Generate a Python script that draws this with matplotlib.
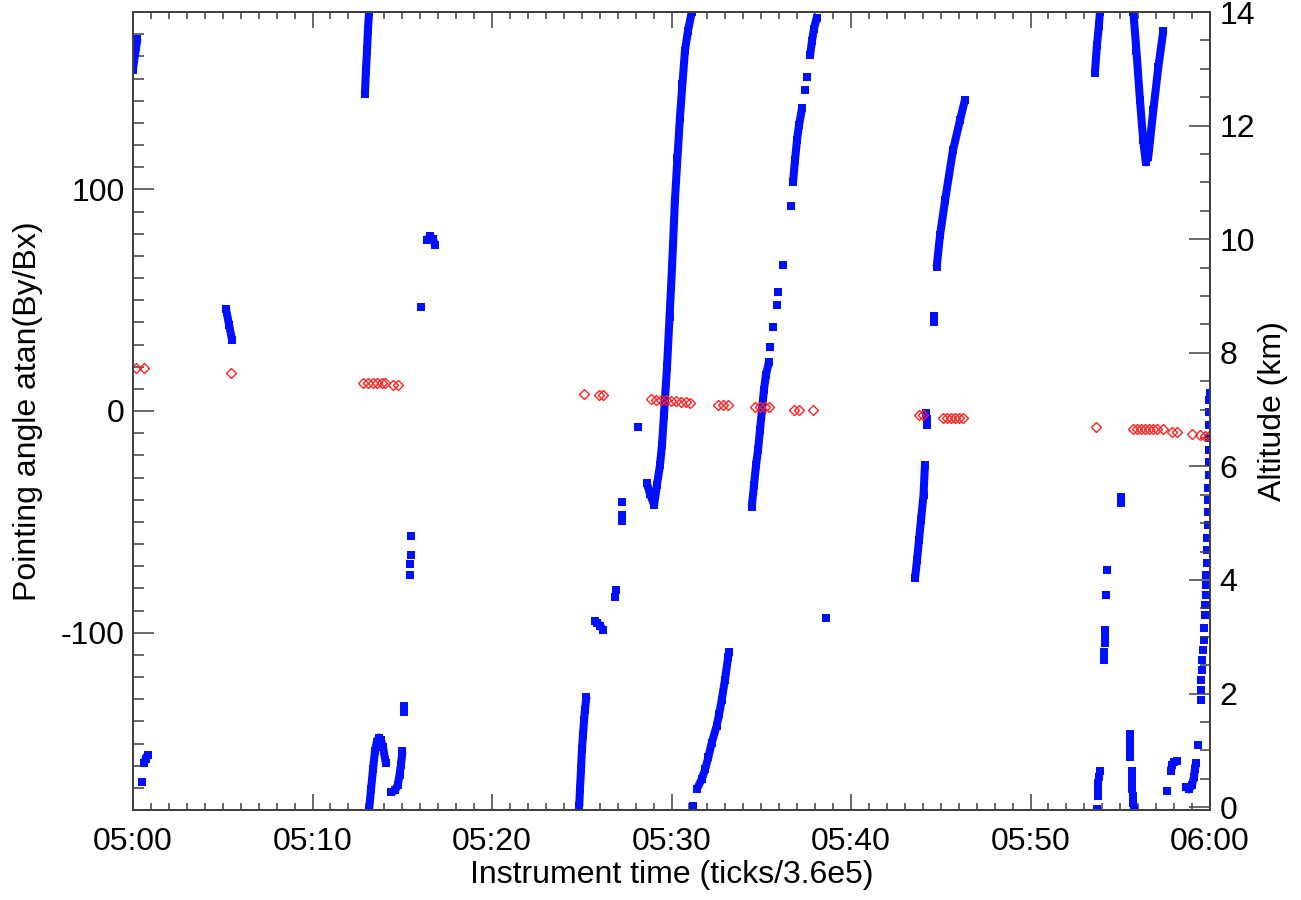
import matplotlib
matplotlib.use('Agg')
import matplotlib.pyplot as plt
from matplotlib.ticker import MultipleLocator, FixedLocator, FuncFormatter

plt.rcParams['font.family'] = ['Liberation Sans', 'DejaVu Sans']
plt.rcParams['axes.unicode_minus'] = False

# time in minutes after 05:00, pointing angle in degrees
# continuous tracks
trk_a_t = [0.0, 0.08, 0.17, 0.25]
trk_a_ang = [154, 159, 164, 168]
trk_b_t = [0.61, 0.70, 0.81]
trk_b_ang = [-159, -157, -155]
trk_c_t = [5.18, 5.35, 5.52]
trk_c_ang = [46, 39, 32]
trk_d_t = [12.92, 12.98, 13.04, 13.09, 13.15]
trk_d_ang = [143, 154, 163, 172, 180]
trk_e_t = [13.15, 13.26, 13.37, 13.48, 13.59, 13.70, 13.82, 13.93, 14.09]
trk_e_ang = [-180, -170.7, -161.7, -153.6, -149.1, -147.3, -148.6, -151.8, -159]
trk_f_t = [14.37, 14.60, 14.76, 14.85, 14.93, 15.01]
trk_f_ang = [-172.1, -171.2, -168.5, -164, -159.5, -153.6]
trk_j_t = [16.38, 16.55, 16.71, 16.82]
trk_j_ang = [77, 79, 77.5, 75]
trk_k_t = [24.86, 24.90, 24.96, 25.01, 25.07, 25.13, 25.18, 25.26]
trk_k_ang = [-178.4, -170.7, -161.7, -152.7, -146, -139.2, -134.7, -128.8]
trk_l_t = [25.74, 25.85, 26.02, 26.18]
trk_l_ang = [-94.6, -95.5, -96.8, -98.6]
trk_p_t = [28.62, 28.80, 29.03, 29.19, 29.36, 29.47, 29.58, 29.75, 29.89,
           30.03, 30.19, 30.33, 30.47, 30.61, 30.75, 30.92, 31.13]
trk_p_ang = [-32.4, -37.4, -42.3, -33.3, -24.3, -15.3, -1.8, 19.8, 42.3,
             64.9, 95, 114, 132.4, 147.7, 162.6, 171.6, 180]
trk_q_t = [31.40, 31.68, 31.87, 32.05, 32.24, 32.52, 32.65, 32.80, 32.98,
           33.16, 33.22]
trk_q_ang = [-170.7, -166.2, -161.7, -156.3, -149.7, -141.9, -136.9, -130.2,
             -121.2, -110.8, -108.6]
trk_r1_t = [34.47, 34.60, 34.71, 34.82, 34.93, 35.04, 35.15, 35.26, 35.43]
trk_r1_ang = [-43.2, -33.3, -24.3, -17.6, -8.6, 0.5, 9.5, 16.2, 22.1]
trk_r2_t = [36.77, 36.88, 36.99, 37.10, 37.27]
trk_r2_ang = [103.2, 113.1, 122.1, 128.8, 136.5]
trk_r3_t = [37.72, 37.83, 37.94, 38.09]
trk_r3_ang = [160.4, 167.1, 172.5, 177.5]
trk_t_t = [43.57, 43.68, 43.79, 43.90, 44.04, 44.12]
trk_t_ang = [-75.2, -67.1, -58.1, -49.1, -37.8, -24.3]
trk_v_t = [44.77, 44.96, 45.24, 45.68, 46.07, 46.35]
trk_v_ang = [64.9, 79.3, 95, 117.6, 131.1, 140.5]
trk_w_t = [53.59, 53.70, 53.81, 53.87]
trk_w_ang = [152.7, 164.9, 173.9, 180]
trk_x_t = [55.73, 55.90, 56.10, 56.28, 56.42, 56.56, 56.84, 57.12, 57.40]
trk_x_ang = [180, 162.6, 140.1, 122.1, 112.2, 114.5, 135.6, 155.1, 171.6]
trk_ad_t = [57.83, 57.88, 57.99, 58.16]
trk_ad_ang = [-162.2, -159.9, -158.3, -157.7]
trk_ae_t = [58.66, 58.83, 58.99, 59.10, 59.16, 59.22]
trk_ae_ang = [-169.8, -170.7, -168.9, -165.3, -161.7, -158.6]

# isolated / sparse samples
pts_t = [0.48, 15.11, 15.11, 15.47, 15.47, 15.43, 15.43, 16.03,
         26.91, 26.85, 27.23, 27.24, 27.24, 28.12, 31.21,
         35.49, 35.65, 35.88, 35.93, 36.21, 36.66, 37.44, 37.55, 38.58,
         44.18, 44.21, 44.23, 44.62, 44.62,
         53.69, 53.74, 53.76, 53.77, 53.81, 53.87,
         54.24, 54.19, 54.15, 54.15, 54.14, 54.09, 54.09, 55.02, 55.02,
         55.54, 55.54, 55.54, 55.54, 55.64, 55.64, 55.65, 55.67, 55.71,
         55.73, 55.77, 57.59, 59.31,
         59.50, 59.50, 59.52, 59.54, 59.57, 59.61, 59.65, 59.68, 59.72,
         59.74, 59.76, 59.78, 59.79, 59.81, 59.83, 59.85, 59.87, 59.89,
         59.89, 59.91, 59.93, 59.93, 59.94, 59.94, 59.96, 59.96, 59.97,
         59.98]
pts_ang = [-167.4, -132.9, -135.9, -56.6, -64.9, -68.9, -73.9, 47,
           -80.6, -83.8, -40.9, -46.8, -49.5, -7.3, -178.4,
           28.8, 37.8, 47.7, 53.6, 65.8, 92.3, 144.6, 150.9, -93.6,
           -1, -3.6, -6.3, 42.8, 40.1,
           -179.7, -173.9, -170.7, -167.6, -164.9, -162.6,
           -71.9, -82.9, -98.6, -100.9, -104.6, -108.9, -112.5, -38.7, -41.4,
           -145.9, -149.4, -152.7, -156, -162.5, -166.2, -167.7, -170.7, -173.7,
           -176.7, -179.4, -171.5, -150.5,
           -130.2, -125.7, -121.2, -116.7, -112.2, -107.7, -103.2, -97.7, -91.9,
           -87.4, -82.9, -78.4, -73.9, -68.5, -62.6, -57.2, -51.4, -45.5,
           -40.1, -34.7, -28.8, -23, -17.6, -12.2, -6.3, -0.5, 5,
           8.1]

# aircraft altitude (km)
alt_t = [0.17, 0.61, 5.44, 12.83, 13.11, 13.35, 13.61, 13.86, 14.04, 14.47,
         14.78, 25.14, 25.98, 26.20, 28.86, 29.14, 29.42, 29.69, 29.97, 30.25,
         30.53, 30.81, 31.03, 32.61, 32.89, 33.13, 34.67, 34.95, 35.23, 35.45,
         36.85, 37.09, 37.90, 43.81, 44.03, 45.14, 45.35, 45.57, 45.79, 46.02,
         46.22, 53.65, 55.73, 55.93, 56.16, 56.38, 56.60, 56.82, 57.05, 57.38,
         57.87, 58.14, 58.98, 59.44, 59.72, 59.94]
alt_km = [7.73, 7.73, 7.64, 7.46, 7.46, 7.46, 7.46, 7.46, 7.46, 7.43,
          7.43, 7.27, 7.25, 7.25, 7.18, 7.17, 7.17, 7.17, 7.15, 7.15,
          7.13, 7.13, 7.12, 7.08, 7.08, 7.08, 7.04, 7.04, 7.04, 7.04,
          7.00, 7.00, 6.99, 6.91, 6.91, 6.86, 6.86, 6.86, 6.86, 6.86,
          6.86, 6.69, 6.65, 6.65, 6.65, 6.65, 6.65, 6.65, 6.65, 6.65,
          6.60, 6.60, 6.57, 6.55, 6.54, 6.53]

tracks = [(trk_a_t, trk_a_ang), (trk_b_t, trk_b_ang), (trk_c_t, trk_c_ang),
          (trk_d_t, trk_d_ang), (trk_e_t, trk_e_ang), (trk_f_t, trk_f_ang),
          (trk_j_t, trk_j_ang), (trk_k_t, trk_k_ang), (trk_l_t, trk_l_ang),
          (trk_p_t, trk_p_ang), (trk_q_t, trk_q_ang), (trk_r1_t, trk_r1_ang),
          (trk_r2_t, trk_r2_ang), (trk_r3_t, trk_r3_ang), (trk_t_t, trk_t_ang),
          (trk_v_t, trk_v_ang), (trk_w_t, trk_w_ang), (trk_x_t, trk_x_ang),
          (trk_ad_t, trk_ad_ang), (trk_ae_t, trk_ae_ang)]

blue = '#0010ff'
axcol = '#404040'
fs = 23

fig = plt.figure(figsize=(13.01, 9.0), dpi=100)
ax = fig.add_axes([133/1301, 90/900, 1077/1301, 798/900])

for tt, aa in tracks:
    ax.plot(tt, aa, '-', color=blue, lw=5.8, solid_capstyle='butt',
            marker='s', ms=5.8, mec=blue, mfc=blue, mew=0, clip_on=True)
ax.plot(pts_t, pts_ang, 's', color=blue, ms=5.8, mew=0, ls='none')

ax.set_xlim(0, 60)
ax.set_ylim(-180, 180)
ax.xaxis.set_major_locator(MultipleLocator(10))
ax.xaxis.set_minor_locator(MultipleLocator(1))
ax.xaxis.set_major_formatter(FuncFormatter(
    lambda v, p: '%02d:%02d' % (5 + int(v) // 60, int(v) % 60)))
ax.yaxis.set_major_locator(FixedLocator([-100, 0, 100]))
ax.yaxis.set_minor_locator(MultipleLocator(10))

ax.tick_params(axis='x', which='both', direction='in', top=True, bottom=True,
               colors=axcol, labelcolor='black', labelsize=fs, pad=12)
ax.tick_params(axis='x', which='major', length=11.5, width=1.1)
ax.tick_params(axis='x', which='minor', length=5, width=1.1)
ax.tick_params(axis='y', which='both', direction='in', left=True, right=False,
               colors=axcol, labelcolor='black', labelsize=fs, pad=6)
ax.tick_params(axis='y', which='major', length=15, width=1.1)
ax.tick_params(axis='y', which='minor', length=8, width=1.1)
for s in ax.spines.values():
    s.set_color(axcol)
    s.set_linewidth(1.3)

ax.set_xlabel('Instrument time (ticks/3.6e5)', fontsize=fs)
ax.xaxis.set_label_coords(0.5, -0.063)
ax.set_ylabel('Pointing angle atan(By/Bx)', fontsize=fs)
ax.yaxis.set_label_coords(-0.0836, 0.5)

ax2 = ax.twinx()
ax2.plot(alt_t, alt_km, 'D', ls='none', ms=4.6, mfc='none', mec='#ff2020',
         mew=1.0)
ax2.set_ylim(-0.05, 14.0)
ax2.yaxis.set_major_locator(MultipleLocator(2))
ax2.yaxis.set_minor_locator(MultipleLocator(0.5))
ax2.tick_params(axis='y', which='both', direction='in', colors=axcol,
                labelcolor='black', labelsize=fs, pad=7)
ax2.tick_params(axis='y', which='major', length=15, width=1.1)
ax2.tick_params(axis='y', which='minor', length=7.5, width=1.1)
for s in ax2.spines.values():
    s.set_color(axcol)
    s.set_linewidth(1.3)
ax2.set_ylabel('Altitude (km)', fontsize=fs, rotation=90)
ax2.yaxis.set_label_coords(1.0446, 0.5)

fig.savefig('out.png', dpi=100)
